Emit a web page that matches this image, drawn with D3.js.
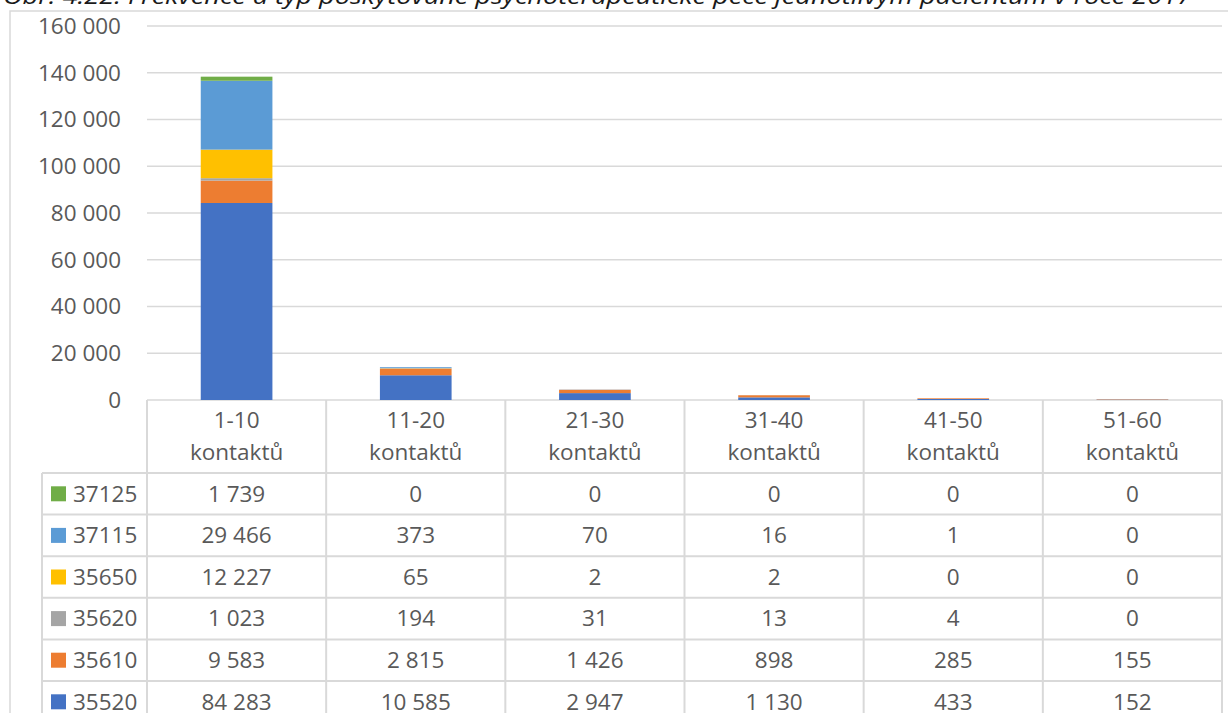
<!DOCTYPE html>
<html>
<head>
<meta charset="utf-8">
<script src="https://cdn.jsdelivr.net/npm/d3@7"></script>
<style>
  body { margin: 0; background: #fff; }
  svg { display: block; font-family: "Open Sans", "Noto Sans", sans-serif; }
</style>
</head>
<body>
<div id="chart"></div>
<script>
const title = "Obr. 4.22: Frekvence a typ poskytované psychoterapeutické péče jednotlivým pacientům v roce 2017";

const categories = ["1-10 kontaktů", "11-20 kontaktů", "21-30 kontaktů", "31-40 kontaktů", "41-50 kontaktů", "51-60 kontaktů"];

// stacking order, bottom -> top
const seriesNames = ["35520", "35610", "35620", "35650", "37115", "37125"];
const seriesColors = ["#4472C4", "#ED7D31", "#A5A5A5", "#FFC000", "#5B9BD5", "#70AD47"];

const v35520 = [84283, 10585, 2947, 1130, 433, 152];
const v35610 = [9583, 2815, 1426, 898, 285, 155];
const v35620 = [1023, 194, 31, 13, 4, 0];
const v35650 = [12227, 65, 2, 2, 0, 0];
const v37115 = [29466, 373, 70, 16, 1, 0];
const v37125 = [1739, 0, 0, 0, 0, 0];

const yTicks = [0, 20000, 40000, 60000, 80000, 100000, 120000, 140000, 160000];

const seriesValues = [v35520, v35610, v35620, v35650, v37115, v37125];

const width = 1228, height = 713;
const textColor = "#595959", lineColor = "#d9d9d9";
const fs = 22.5;

const cz = d3.formatLocale({ decimal: ",", thousands: "\u00a0", grouping: [3], currency: ["", " Kč"] });
const fmt = cz.format(",d");

const rows = categories.map((c, i) => {
  const r = { cat: c };
  seriesNames.forEach((s, k) => r[s] = seriesValues[k][i]);
  return r;
});

const svg = d3.select("#chart").append("svg")
  .attr("width", width)
  .attr("height", height);

// outer chart border
svg.append("rect")
  .attr("x", 10).attr("y", 11)
  .attr("width", 1240).attr("height", 800)
  .attr("fill", "none")
  .attr("stroke", lineColor)
  .attr("stroke-width", 1.5);

// title (cut at top like the source)
svg.append("text")
  .attr("x", 3).attr("y", 4)
  .attr("font-size", 22)
  .attr("font-style", "italic")
  .attr("fill", "#1a1a1a")
  .attr("textLength", 1189)
  .attr("lengthAdjust", "spacingAndGlyphs")
  .text(title);

const plotLeft = 147, plotRight = 1222, plotTop = 26, plotBottom = 400;

const x = d3.scaleBand()
  .domain(categories)
  .range([plotLeft, plotRight])
  .paddingInner(0.6)
  .paddingOuter(0.3);

const y = d3.scaleLinear()
  .domain([0, 160000])
  .range([plotBottom, plotTop]);

// gridlines
svg.append("g")
  .selectAll("line")
  .data(yTicks)
  .join("line")
  .attr("x1", plotLeft).attr("x2", plotRight)
  .attr("y1", d => y(d)).attr("y2", d => y(d))
  .attr("stroke", lineColor)
  .attr("stroke-width", 1.5);

// y labels
svg.append("g")
  .selectAll("text")
  .data(yTicks)
  .join("text")
  .attr("x", 121)
  .attr("y", d => y(d))
  .attr("dy", "0.35em")
  .attr("text-anchor", "end")
  .attr("font-size", fs)
  .attr("fill", textColor)
  .text(d => fmt(d));

// stacked bars
const stack = d3.stack().keys(seriesNames)(rows);

svg.append("g")
  .selectAll("g")
  .data(stack)
  .join("g")
  .attr("fill", (d, i) => seriesColors[i])
  .selectAll("rect")
  .data(d => d)
  .join("rect")
  .attr("x", d => x(d.data.cat))
  .attr("width", x.bandwidth())
  .attr("y", d => y(d[1]))
  .attr("height", d => y(d[0]) - y(d[1]));

// data table
const step = x.step();
const tableLeft = 42, headerBottom = 473, rowH = 41.6;
const tableRows = seriesNames.slice().reverse();
const tableBottom = headerBottom + rowH * tableRows.length;

const tbl = svg.append("g")
  .attr("stroke", lineColor)
  .attr("stroke-width", 2);

// vertical lines at column boundaries
d3.range(categories.length + 1).forEach(i => {
  tbl.append("line")
    .attr("x1", plotLeft + i * step).attr("x2", plotLeft + i * step)
    .attr("y1", plotBottom).attr("y2", tableBottom);
});
tbl.append("line")
  .attr("x1", tableLeft).attr("x2", tableLeft)
  .attr("y1", headerBottom).attr("y2", tableBottom);

// horizontal row lines
d3.range(tableRows.length + 1).forEach(i => {
  tbl.append("line")
    .attr("x1", tableLeft).attr("x2", plotRight)
    .attr("y1", headerBottom + i * rowH).attr("y2", headerBottom + i * rowH);
});

// header (category labels in two lines)
const head = svg.append("g")
  .selectAll("text")
  .data(categories)
  .join("text")
  .attr("text-anchor", "middle")
  .attr("font-size", fs)
  .attr("fill", textColor);

head.each(function(d) {
  const parts = d.split(" ");
  const cx = x(d) + x.bandwidth() / 2;
  d3.select(this).selectAll("tspan")
    .data(parts)
    .join("tspan")
    .attr("x", cx)
    .attr("y", (p, j) => 428 + j * 31.5)
    .text(p => p);
});

// rows
tableRows.forEach((s, r) => {
  const k = seriesNames.indexOf(s);
  const cy = headerBottom + r * rowH + rowH / 2;

  svg.append("rect")
    .attr("x", 51).attr("y", cy - 7.5)
    .attr("width", 15).attr("height", 15)
    .attr("fill", seriesColors[k]);

  svg.append("text")
    .attr("x", 73).attr("y", cy)
    .attr("dy", "0.35em")
    .attr("font-size", fs)
    .attr("fill", textColor)
    .text(s);

  svg.append("g")
    .selectAll("text")
    .data(seriesValues[k])
    .join("text")
    .attr("x", (d, i) => x(categories[i]) + x.bandwidth() / 2)
    .attr("y", cy)
    .attr("dy", "0.35em")
    .attr("text-anchor", "middle")
    .attr("font-size", fs)
    .attr("fill", textColor)
    .text(d => fmt(d));
});
</script>
</body>
</html>
